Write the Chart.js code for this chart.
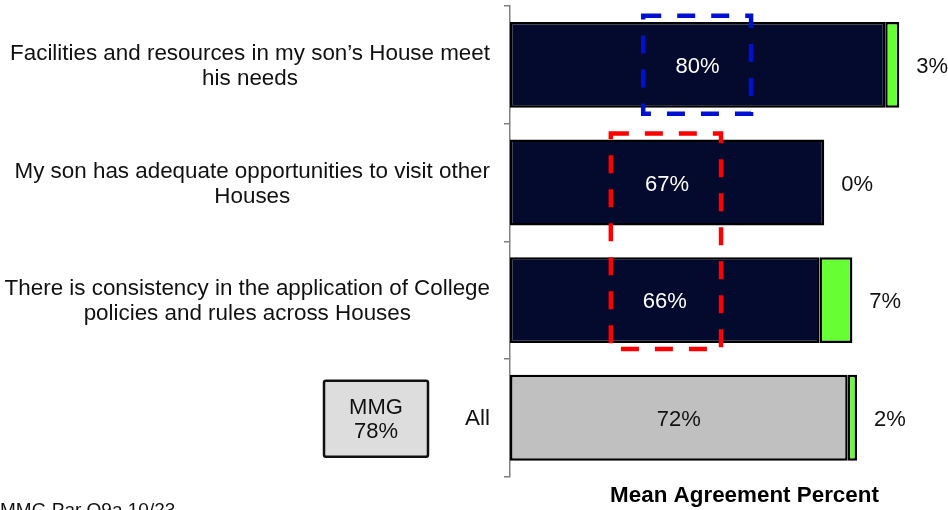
<!DOCTYPE html>
<html>
<head>
<meta charset="utf-8">
<script src="https://cdn.jsdelivr.net/npm/chart.js@4/dist/chart.umd.min.js"></script>
<style>
  html, body { margin: 0; padding: 0; overflow: hidden; background: #fff; }
  #wrap { width: 990px; height: 520px; position: relative; }
</style>
</head>
<body>
<div id="wrap"><canvas id="myChart"></canvas></div>
<script>
"use strict";

// chart data
let categories = [
    ["Facilities and resources in my son\u2019s House meet", "his needs"],
    ["My son has adequate opportunities to visit other", "Houses"],
    ["There is consistency in the application of College", "policies and rules across Houses"],
    ["All"]
];
let agreeValues = [80, 67, 66, 72];
let extraValues = [3, 0, 7, 2];
let mmgLabel = ["MMG", "78%"];
let sourceNote = "MMG Par Q9a 10/23";
let axisTitle = "Mean Agreement Percent";

// colours
let navy = "#040A2E";
let grey = "#C0C0C0";
let green = "#66FF33";
let fontFamily = "Arial, 'Liberation Sans', sans-serif";

// dashed highlight boxes (x in axis units, category range)
let highlightBoxes = [
    { from: 28.4, to: 51.4, firstCat: 0, lastCat: 0, color: "#0010D0" },
    { from: 21.5, to: 45.0, firstCat: 1, lastCat: 2, color: "#FF0000" }
];

let barColors = agreeValues.map((v, i) => i === agreeValues.length - 1 ? grey : navy);

// draws category labels, value labels and the extra boxes
const labelPlugin = {
    id: "labelPlugin",
    afterDatasetsDraw(chart) {
        const ctx = chart.ctx;
        const xScale = chart.scales.x;
        const yScale = chart.scales.y;
        ctx.save();
        ctx.font = "22.4px " + fontFamily;
        ctx.textBaseline = "middle";

        // category labels, each block right aligned, lines centered inside
        categories.forEach((lines, i) => {
            const yc = yScale.getPixelForValue(i);
            let widest = 0;
            lines.forEach(l => { widest = Math.max(widest, ctx.measureText(l).width); });
            const cx = chart.chartArea.left - 20 - widest / 2;
            ctx.fillStyle = "#111";
            ctx.textAlign = "center";
            lines.forEach((l, k) => {
                ctx.fillText(l, cx, yc + (k - (lines.length - 1) / 2) * 25 + 1.5);
            });
        });

        ctx.font = "22px " + fontFamily;
        // values inside the main bars
        const meta0 = chart.getDatasetMeta(0);
        meta0.data.forEach((bar, i) => {
            ctx.fillStyle = i === agreeValues.length - 1 ? "#111" : "#fff";
            ctx.textAlign = "center";
            ctx.fillText(agreeValues[i] + "%", (bar.base + bar.x) / 2, bar.y + 2);
        });

        // values after the stack
        const meta1 = chart.getDatasetMeta(1);
        meta1.data.forEach((bar, i) => {
            ctx.fillStyle = "#111";
            ctx.textAlign = "left";
            ctx.fillText(extraValues[i] + "%", bar.x + 17, bar.y + 2);
        });

        // dashed boxes
        highlightBoxes.forEach(b => {
            const x1 = xScale.getPixelForValue(b.from);
            const x2 = xScale.getPixelForValue(b.to);
            const y1 = yScale.getPixelForValue(b.firstCat) - 49;
            const y2 = yScale.getPixelForValue(b.lastCat) + 49;
            ctx.strokeStyle = b.color;
            ctx.lineWidth = 4.5;
            ctx.setLineDash([18, 16]);
            ctx.strokeRect(x1, y1, x2 - x1, y2 - y1);
        });
        ctx.setLineDash([]);

        // MMG box next to "All"
        const yAll = yScale.getPixelForValue(categories.length - 1);
        const bx = chart.chartArea.left - 186;
        const by = yAll - 37;
        ctx.fillStyle = "#DDDDDD";
        ctx.strokeStyle = "#111";
        ctx.lineWidth = 2.5;
        ctx.beginPath();
        ctx.roundRect(bx, by, 104, 76, 2);
        ctx.fill();
        ctx.stroke();
        ctx.fillStyle = "#111";
        ctx.textAlign = "center";
        ctx.fillText(mmgLabel[0], bx + 52, by + 27);
        ctx.fillText(mmgLabel[1], bx + 52, by + 51);

        // source note, bottom left
        ctx.font = "19px " + fontFamily;
        ctx.textAlign = "left";
        ctx.textBaseline = "alphabetic";
        ctx.fillText(sourceNote, 0, 516);
        ctx.restore();
    }
};

const ctx = document.getElementById("myChart");

new Chart(ctx, {
    type: "bar",
    data: {
        labels: categories,
        datasets: [{
            label: "Agree",
            data: agreeValues,
            backgroundColor: barColors,
            borderColor: "#000",
            borderWidth: 2.5,
            borderSkipped: false,
            barPercentage: 0.73,
            categoryPercentage: 1
        }, {
            label: "Extra",
            data: extraValues,
            backgroundColor: green,
            borderColor: "#000",
            borderWidth: 2.5,
            borderSkipped: false,
            barPercentage: 0.73,
            categoryPercentage: 1
        }]
    },
    options: {
        indexAxis: "y",
        responsive: true,
        maintainAspectRatio: false,
        animation: false,
        layout: {
            padding: { left: 504, right: 11, top: 6, bottom: 10.6 }
        },
        plugins: {
            legend: { display: false },
            tooltip: { enabled: false }
        },
        scales: {
            x: {
                stacked: true,
                min: 0,
                max: 100,
                grid: { display: false, drawTicks: false },
                border: { display: false },
                ticks: { display: false },
                title: {
                    display: true,
                    text: axisTitle,
                    color: "#000",
                    font: { family: fontFamily, size: 22.4, weight: "bold" },
                    padding: { top: 6, bottom: 0 }
                }
            },
            y: {
                stacked: true,
                grid: {
                    display: true,
                    drawOnChartArea: false,
                    drawTicks: true,
                    tickLength: 6,
                    offset: true,
                    color: "#808080",
                    lineWidth: 1.5
                },
                border: { display: true, color: "#808080", width: 1.5 },
                ticks: { display: false }
            }
        }
    },
    plugins: [labelPlugin]
});
</script>
</body>
</html>
